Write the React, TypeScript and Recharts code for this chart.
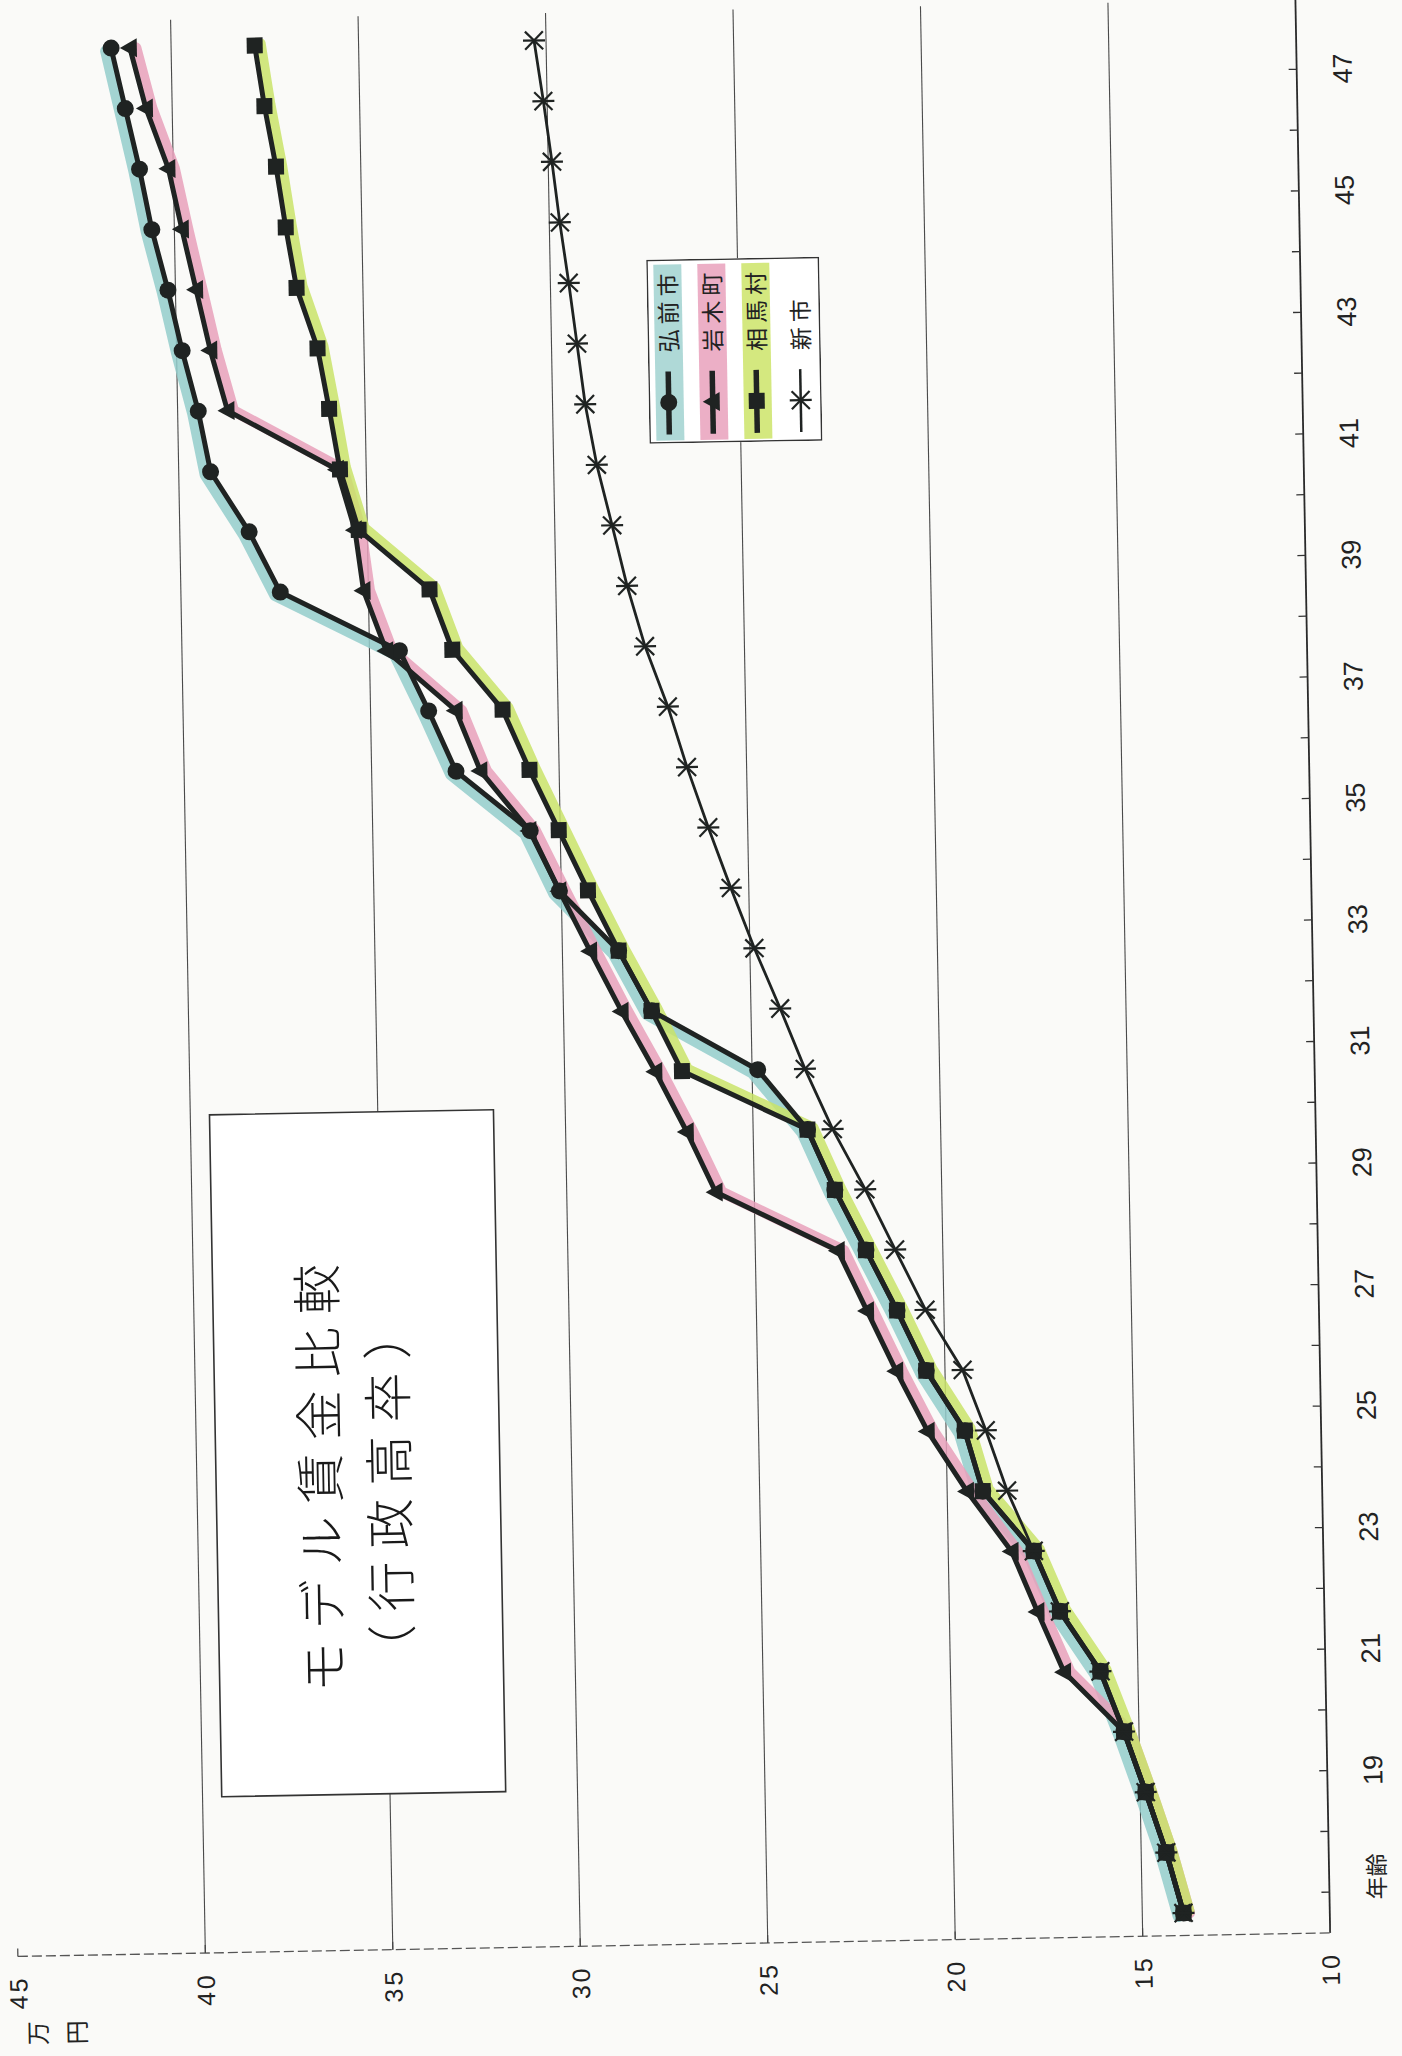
import React from "react";
import { LineChart, Line, XAxis, YAxis, CartesianGrid, Legend } from "recharts";

// ---- data ----
const ageCategories = [
  "年齢", "18", "19", "20", "21", "22", "23", "24", "25", "26", "27", "28", "29", "30", "31", "32",
  "33", "34", "35", "36", "37", "38", "39", "40", "41", "42", "43", "44", "45", "46", "47", "48",
];
const hirosaki = [
  13.9, 14.33, 14.85, 15.4, 16.0, 17.05, 17.72, 19.05, 19.5, 20.5, 21.25, 22.05, 22.85, 23.55, 24.85, 27.65,
  28.5, 30.05, 30.8, 32.75, 33.45, 34.2, 37.35, 38.15, 39.15, 39.45, 39.85, 40.2, 40.6, 40.9, 41.25, 41.6,
];
const iwaki = [
  13.9, 14.33, 14.85, 15.4, 16.97, 17.65, 18.31, 19.47, 20.49, 21.3, 22.05, 22.8, 26.03, 26.77, 27.58, 28.45,
  29.26, 30.05, 30.82, 32.1, 32.73, 34.55, 35.13, 35.33, 35.78, 38.67, 39.1, 39.45, 39.8, 40.13, 40.7, 41.1,
];
const souma = [
  13.9, 14.33, 14.85, 15.4, 16.0, 17.05, 17.72, 19.05, 19.5, 20.5, 21.25, 22.05, 22.85, 23.55, 26.87, 27.65,
  28.5, 29.29, 30.04, 30.79, 31.48, 32.79, 33.37, 35.23, 35.7, 35.96, 36.24, 36.77, 37.03, 37.26, 37.54, 37.77,
];
const shinshi = [
  13.9, 14.33, 14.85, 15.4, 16.0, 17.05, 17.72, 18.4, 18.94, 19.53, 20.49, 21.27, 22.04, 22.88, 23.59, 24.22,
  24.88, 25.48, 26.05, 26.59, 27.07, 27.65, 28.1, 28.47, 28.85, 29.13, 29.32, 29.51, 29.72, 29.9, 30.1, 30.32,
];
const valueTicks = [10, 15, 20, 25, 30, 35, 40, 45];
const gridValues = [15, 20, 25, 30, 35, 40];
const seriesNames = ["弘前市", "岩木町", "相馬村", "新市"];
const titleLines = ["モデル賃金比較", "（行政高卒）"];
const unitLabel = ["万", "円"];

const data = ageCategories.map((age, i) => ({
  i,
  age,
  hirosaki: hirosaki[i],
  iwaki: iwaki[i],
  souma: souma[i],
  shinshi: shinshi[i],
}));
const tickPositions = ageCategories.slice(0, 31).map((_, i) => i + 0.3);

// ---- styling ----
const INK = "#1f2322";
const JP = "'Noto Sans CJK JP', 'Noto Sans', sans-serif";
const NUM = "'Liberation Sans', Arial, sans-serif";
const HL_TEAL = "#93cccb";
const HL_PINK = "#e8a0bb";
const HL_GREEN = "#c9e36a";

const css = `
.recharts-surface { overflow: visible; }
.hl-teal { transform: translate(-3px, -5px); }
.hl-pink { transform: translate(0px, 6px); }
.hl-green { transform: translate(2px, 6px); }
`;

type MarkerKind = "circle" | "triangle" | "square" | "asterisk";

function Marker({ kind, cx, cy }: { kind: MarkerKind; cx: number; cy: number }) {
  if (kind === "circle") return <circle cx={cx} cy={cy} r={8.5} fill={INK} />;
  if (kind === "triangle")
    return <path d={`M${cx},${cy - 10} L${cx + 9.5},${cy + 7} L${cx - 9.5},${cy + 7} Z`} fill={INK} />;
  if (kind === "square") return <rect x={cx - 8} y={cy - 8} width={16} height={16} fill={INK} />;
  return (
    <g stroke={INK} strokeWidth={2.2}>
      <line x1={cx - 9} y1={cy - 9} x2={cx + 9} y2={cy + 9} />
      <line x1={cx - 9} y1={cy + 9} x2={cx + 9} y2={cy - 9} />
      <line x1={cx} y1={cy - 11} x2={cx} y2={cy + 11} />
    </g>
  );
}

const makeDot = (kind: MarkerKind, name: string) => (p: any) => {
  if (p == null || p.cx == null || p.cy == null) return <g key={`${name}-${p?.index}`} />;
  return (
    <g key={`${name}-${p.index}`}>
      <Marker kind={kind} cx={p.cx} cy={p.cy} />
    </g>
  );
};

const AgeTick = (props: any) => {
  const { x, y, payload } = props;
  const idx = Math.round(payload.value - 0.3);
  const label = idx % 2 === 0 ? ageCategories[idx] : "";
  return (
    <g>
      <line x1={x} x2={x} y1={y} y2={y - 8} stroke="#333" strokeWidth={1.3} />
      {label ? (
        <text
          x={idx === 0 ? x + 15 : x}
          y={y + 46}
          textAnchor="middle"
          dominantBaseline="central"
          fontSize={idx === 0 ? 23 : 27}
          fontFamily={idx === 0 ? JP : NUM}
          fill="#222"
        >
          {label}
        </text>
      ) : null}
    </g>
  );
};

const ValueTick = (props: any) => {
  const { x, y, payload } = props;
  return (
    <g>
      <line x1={x} x2={x + 8} y1={y} y2={y} stroke="#444" strokeWidth={1.2} />
      <text
        x={x - 36}
        y={y}
        textAnchor="middle"
        dominantBaseline="central"
        fontSize={25}
        letterSpacing={3}
        fontFamily={NUM}
        fill="#222"
      >
        {payload.value}
      </text>
    </g>
  );
};

const legendRows: { kind: MarkerKind; hl: string | null; w: number }[] = [
  { kind: "circle", hl: "#a6d5d3", w: 5.5 },
  { kind: "triangle", hl: "#eaa6c0", w: 5.5 },
  { kind: "square", hl: "#cfe671", w: 5.5 },
  { kind: "asterisk", hl: null, w: 2.5 },
];

const LegendBox = () => (
  <svg width={184} height={173} style={{ display: "block", background: "#fff" }}>
    <rect x={0.75} y={0.75} width={182.5} height={171.5} fill="#fff" stroke="#333" strokeWidth={1.5} />
    {legendRows.map((r, idx) => {
      const ry = 20 + 44 * idx;
      return (
        <g key={idx}>
          {r.hl ? <rect x={3} y={ry - 13} width={176} height={28} fill={r.hl} opacity={0.9} /> : null}
          <line x1={9} x2={72} y1={ry} y2={ry} stroke={INK} strokeWidth={r.w} />
          <Marker kind={r.kind} cx={41} cy={ry} />
          <text
            x={91}
            y={ry}
            dominantBaseline="central"
            fontSize={23}
            letterSpacing={5}
            fontFamily={JP}
            fill="#222"
          >
            {seriesNames[idx]}
          </text>
        </g>
      );
    })}
  </svg>
);

export default function App() {
  return (
    <div
      style={{
        position: "absolute",
        left: 0,
        top: 0,
        width: 1402,
        height: 2056,
        overflow: "hidden",
        background: "#fafaf8",
      }}
    >
      <style>{css}</style>
      <div
        style={{
          position: "absolute",
          left: 0,
          top: 0,
          width: 1402,
          height: 2056,
          transform: "rotate(-1.03deg)",
          transformOrigin: "701px 1028px",
        }}
      >
        <div
          style={{
            position: "absolute",
            left: 0,
            top: 0,
            width: 2056,
            height: 1402,
            transformOrigin: "0 0",
            transform: "translateY(2056px) rotate(-90deg)",
          }}
        >
          <LineChart
            width={2056}
            height={1402}
            data={data}
            margin={{ top: 1.3, right: 10.3, bottom: 0, left: 0 }}
          >
            <CartesianGrid
              horizontal={true}
              vertical={false}
              horizontalValues={gridValues}
              stroke="#4a4a4a"
              strokeWidth={1.1}
            />
            <XAxis
              dataKey="i"
              type="number"
              domain={[-0.37, 31.45]}
              allowDataOverflow
              ticks={tickPositions}
              interval={0}
              tickSize={0}
              tickMargin={0}
              tickLine={false}
              height={88.2}
              axisLine={{ stroke: "#2a2a2a", strokeWidth: 1.8 }}
              tick={<AgeTick />}
            />
            <YAxis
              type="number"
              domain={[10, 45]}
              allowDataOverflow
              ticks={valueTicks}
              interval={0}
              width={112}
              tickSize={0}
              tickMargin={0}
              tickLine={false}
              axisLine={{ stroke: "#555", strokeWidth: 1.3, strokeDasharray: "10 4" }}
              tick={<ValueTick />}
            />
            <Legend
              layout="horizontal"
              verticalAlign="middle"
              align="center"
              wrapperStyle={{ left: 1613, top: 660, width: 184, height: 173 }}
              content={() => <LegendBox />}
            />
            {/* highlighter strokes drawn under the black lines */}
            <Line
              dataKey="hirosaki"
              className="hl-teal"
              stroke={HL_TEAL}
              strokeWidth={12}
              strokeOpacity={0.85}
              strokeLinejoin="round"
              strokeLinecap="round"
              dot={false}
              activeDot={false}
              legendType="none"
              isAnimationActive={false}
            />
            <Line
              dataKey="iwaki"
              className="hl-pink"
              stroke={HL_PINK}
              strokeWidth={11}
              strokeOpacity={0.85}
              strokeLinejoin="round"
              strokeLinecap="round"
              dot={false}
              activeDot={false}
              legendType="none"
              isAnimationActive={false}
            />
            <Line
              dataKey="souma"
              className="hl-green"
              stroke={HL_GREEN}
              strokeWidth={10}
              strokeOpacity={0.85}
              strokeLinejoin="round"
              strokeLinecap="round"
              dot={false}
              activeDot={false}
              legendType="none"
              isAnimationActive={false}
            />
            <Line
              dataKey="hirosaki"
              name={seriesNames[0]}
              stroke={INK}
              strokeWidth={5}
              strokeLinejoin="round"
              dot={makeDot("circle", "h")}
              activeDot={false}
              isAnimationActive={false}
            />
            <Line
              dataKey="iwaki"
              name={seriesNames[1]}
              stroke={INK}
              strokeWidth={5}
              strokeLinejoin="round"
              dot={makeDot("triangle", "i")}
              activeDot={false}
              isAnimationActive={false}
            />
            <Line
              dataKey="souma"
              name={seriesNames[2]}
              stroke={INK}
              strokeWidth={5}
              strokeLinejoin="round"
              dot={makeDot("square", "s")}
              activeDot={false}
              isAnimationActive={false}
            />
            <Line
              dataKey="shinshi"
              name={seriesNames[3]}
              stroke={INK}
              strokeWidth={2.8}
              strokeLinejoin="round"
              dot={makeDot("asterisk", "n")}
              activeDot={false}
              isAnimationActive={false}
            />
          </LineChart>
          <svg
            width={2056}
            height={1402}
            style={{ position: "absolute", left: 0, top: 0, pointerEvents: "none", overflow: "visible" }}
          >
            <rect x={268} y={208} width={682} height={284} fill="#fff" stroke="#333" strokeWidth={1.6} />
            <text
              x={591}
              y={309}
              textAnchor="middle"
              dominantBaseline="central"
              fontSize={50}
              letterSpacing={13}
              fontWeight={300}
              fontFamily={JP}
              fill="#1a1a1a"
            >
              {titleLines[0]}
            </text>
            <text
              x={576}
              y={378}
              textAnchor="middle"
              dominantBaseline="central"
              fontSize={50}
              letterSpacing={13}
              fontWeight={300}
              fontFamily={JP}
              fill="#1a1a1a"
            >
              {titleLines[1]}
            </text>
            <text x={35} y={18.5} textAnchor="middle" dominantBaseline="central" fontSize={24} fontFamily={JP} fill="#222">
              {unitLabel[0]}
            </text>
            <text x={35} y={57.5} textAnchor="middle" dominantBaseline="central" fontSize={24} fontFamily={JP} fill="#222">
              {unitLabel[1]}
            </text>
          </svg>
        </div>
      </div>
    </div>
  );
}
